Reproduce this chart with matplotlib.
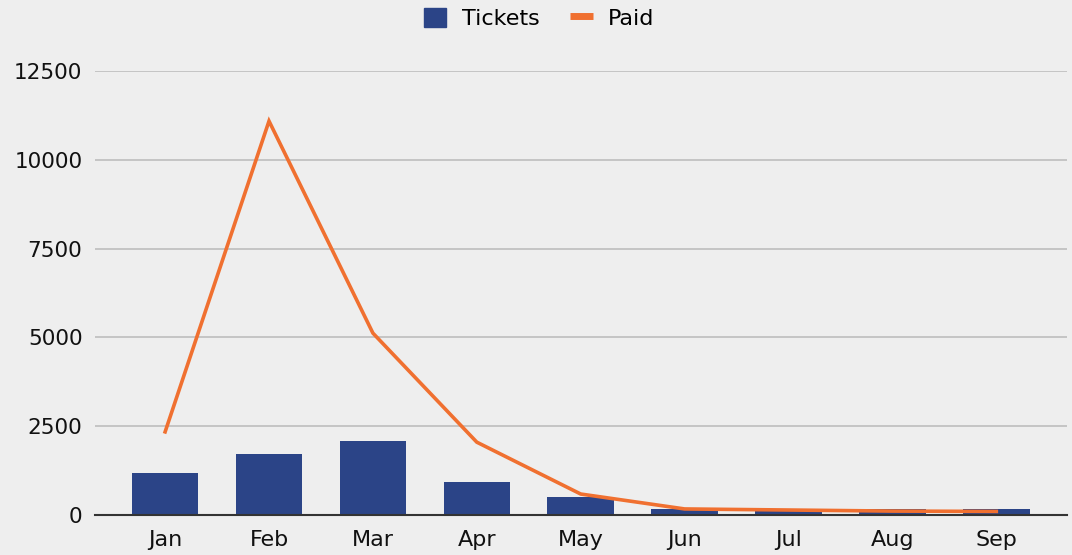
import matplotlib
matplotlib.use("Agg")
import matplotlib.pyplot as plt
from matplotlib.lines import Line2D
from matplotlib.patches import Patch

months = ["Jan", "Feb", "Mar", "Apr", "May", "Jun", "Jul", "Aug", "Sep"]
tickets = [1180, 1720, 2080, 930, 510, 170, 140, 170, 170]
paid = [2340, 11090, 5120, 2050, 590, 170, 140, 110, 100]
y_ticks = [0, 2500, 5000, 7500, 10000, 12500]

bg = "#eeeeee"
bar_color = "#2b4487"
line_color = "#f07030"

fig = plt.figure(figsize=(10.72, 5.55), dpi=100, facecolor=bg)
ax = fig.add_axes([0.0886, 0.0721, 0.9067, 0.8])
ax.set_facecolor(bg)

x = list(range(len(months)))
ax.bar(x, tickets, width=0.64, color=bar_color, zorder=2)
ax.plot(x, paid, color=line_color, linewidth=2.6, zorder=3, solid_joinstyle="miter")

ax.set_xlim(-0.675, len(months) - 1 + 0.68)
ax.set_ylim(0, 12500)
ax.set_yticks(y_ticks)
ax.set_yticklabels([str(v) for v in y_ticks])
ax.set_xticks(x)
ax.set_xticklabels(months)
ax.tick_params(axis="both", length=0, colors="#111111")
ax.tick_params(axis="y", pad=9, labelsize=15.5)
ax.tick_params(axis="x", pad=11, labelsize=16)

ax.grid(axis="y", color="#bdbdbd", linewidth=1.2, zorder=0)
ax.set_axisbelow(True)
for side in ["top", "right", "left"]:
    ax.spines[side].set_visible(False)
ax.spines["bottom"].set_color("#333333")
ax.spines["bottom"].set_linewidth(1.5)
ax.spines["bottom"].set_zorder(4)

handles = [
    Patch(facecolor=bar_color, edgecolor=bar_color, label="Tickets"),
    Line2D([0], [0], color=line_color, linewidth=5, solid_capstyle="butt", label="Paid"),
]
fig.legend(handles=handles, loc="center", bbox_to_anchor=(0.503, 0.967), ncol=2,
           frameon=False, fontsize=16, handlelength=1.0, handleheight=1.0,
           columnspacing=1.4, handletextpad=0.7)

fig.savefig("out.png", dpi=100, facecolor=bg)
